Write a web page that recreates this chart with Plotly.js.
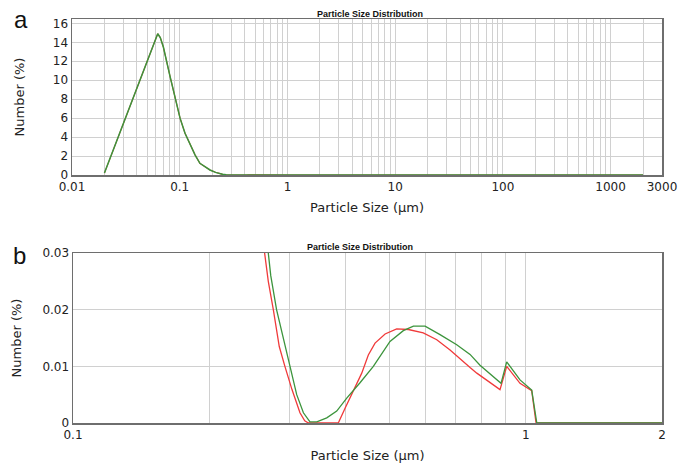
<!DOCTYPE html>
<html>
<head>
<meta charset="utf-8">
<script src="https://cdn.plot.ly/plotly-3.0.1.min.js"></script>
<style>html,body{margin:0;padding:0;background:#fff;}#chart{width:681px;height:463px;}</style>
</head>
<body>
<div id="chart"></div>
<script>
// ---- data (particle size in µm, number in %) ----
var peakSize = [0.0200, 0.0230, 0.0265, 0.0305, 0.0350, 0.0400, 0.0460, 0.0530, 0.0580, 0.0625, 0.0660, 0.0705, 0.0813, 0.0900, 0.1007, 0.1120, 0.1247, 0.1390, 0.1540, 0.1720, 0.1910, 0.2150, 0.2370, 0.2500];
var peakNum  = [0.2, 2.0, 3.8, 5.6, 7.4, 9.1, 10.9, 12.7, 13.9, 14.9, 14.5, 13.5, 10.4, 8.2, 6.0, 4.4, 3.2, 2.1, 1.23, 0.82, 0.53, 0.28, 0.12, 0.07];

var tailSizeRed = [0.265, 0.270, 0.277, 0.2855, 0.2938, 0.3046, 0.3172, 0.3250, 0.331, 0.3855, 0.399, 0.4163, 0.4343, 0.4491, 0.4647, 0.4891, 0.5188, 0.5505, 0.5939, 0.6361, 0.6805, 0.7534, 0.7798, 0.8774, 0.9078, 0.9714, 1.031, 1.054, 2000];
var tailNumRed  = [0.030, 0.025, 0.020, 0.0135, 0.0100, 0.0059, 0.0018, 0.0004, 0.0000, 0.0000, 0.0026, 0.0056, 0.0088, 0.0120, 0.0141, 0.0157, 0.0166, 0.0165, 0.0159, 0.0147, 0.0129, 0.0098, 0.0088, 0.0059, 0.0100, 0.0070, 0.0057, 0.0000, 0.0000];

var tailSizeGreen = [0.270, 0.2734, 0.2816, 0.3009, 0.312, 0.3228, 0.3338, 0.3455, 0.3635, 0.3824, 0.4024, 0.4305, 0.4607, 0.5014, 0.5366, 0.5648, 0.5994, 0.6467, 0.704, 0.7534, 0.7925, 0.882, 0.9078, 0.9714, 1.031, 1.058, 2000];
var tailNumGreen  = [0.030, 0.026, 0.020, 0.0100, 0.0050, 0.0018, 0.0002, 0.0002, 0.0009, 0.0021, 0.0044, 0.0071, 0.0100, 0.0144, 0.0163, 0.0171, 0.0171, 0.0156, 0.0138, 0.0121, 0.0102, 0.0070, 0.0108, 0.0076, 0.0058, 0.0000, 0.0000];

var gridValsA = [0.01,0.02,0.03,0.04,0.05,0.06,0.07,0.08,0.09,0.1,0.2,0.3,0.4,0.5,0.6,0.7,0.8,0.9,1,2,3,4,5,6,7,8,9,10,20,30,40,50,60,70,80,90,100,200,300,400,500,600,700,800,900,1000,2000,3000];
var labelValsA = [0.01, 0.1, 1, 10, 100, 1000, 3000];
var labelTextA = ['0.01', '0.1', '1', '10', '100', '1000', '3000'];
var gridValsB = [0.1,0.2,0.3,0.4,0.5,0.6,0.7,0.8,0.9,1,2];
var labelValsB = [0.1, 1, 2];
var labelTextB = ['0.1', '1', '2'];

var chartTitle = 'Particle Size Distribution';
var xTitle = 'Particle Size (\u00b5m)';
var yTitle = 'Number (%)';

// ---- build ----
var redX = peakSize.concat(tailSizeRed), redY = peakNum.concat(tailNumRed);
var greenX = peakSize.concat(tailSizeGreen), greenY = peakNum.concat(tailNumGreen);
function tickText(vals, lv, lt){ return vals.map(function(v){ var i = lv.indexOf(v); return i >= 0 ? lt[i] : ''; }); }

var RED = '#f03a3a', GREEN = '#3c943c';
var traces = [
  {x: redX, y: redY, xaxis: 'x', yaxis: 'y', mode: 'lines', line: {color: RED, width: 1.1}, hoverinfo: 'skip'},
  {x: greenX, y: greenY, xaxis: 'x', yaxis: 'y', mode: 'lines', line: {color: GREEN, width: 1.5}, hoverinfo: 'skip'},
  {x: redX, y: redY, xaxis: 'x2', yaxis: 'y2', mode: 'lines', line: {color: RED, width: 1.3}, hoverinfo: 'skip'},
  {x: greenX, y: greenY, xaxis: 'x2', yaxis: 'y2', mode: 'lines', line: {color: GREEN, width: 1.3}, hoverinfo: 'skip'}
];

var tickFont = {family: 'DejaVu Sans, Verdana, sans-serif', size: 12, color: '#222'};
var titleFont = {family: 'DejaVu Sans, Verdana, sans-serif', size: 13, color: '#222'};
var common = {showgrid: true, gridcolor: '#d0d0d0', gridwidth: 1, showline: true, linecolor: '#6e6e6e', linewidth: 1.5, mirror: true, ticks: '', zeroline: false, tickfont: tickFont, fixedrange: true};
function ax(extra){ var o = {}; for (var k in common) o[k] = common[k]; for (var k2 in extra) o[k2] = extra[k2]; return o; }
var W = 681, H = 463;

var layout = {
  width: W, height: H,
  margin: {l: 0, r: 0, t: 0, b: 0},
  paper_bgcolor: '#fff', plot_bgcolor: '#fff',
  showlegend: false,
  title: {text: '<b>' + chartTitle + '</b>', font: {family: 'Liberation Sans, Arial, sans-serif', size: 9, color: '#111'}, x: 370/W, xanchor: 'center', y: 1 - 14/H, yanchor: 'middle', xref: 'paper', yref: 'container'},
  xaxis: ax({type: 'log', range: [-2, Math.log10(3000)], domain: [72/W, 662/W], anchor: 'y', tickmode: 'array', tickvals: gridValsA, ticktext: tickText(gridValsA, labelValsA, labelTextA), title: {text: xTitle, font: titleFont, standoff: 10}}),
  yaxis: ax({range: [0, 16.46], domain: [1 - 175/H, 1 - 19/H], anchor: 'x', tick0: 0, dtick: 2, title: {text: yTitle, font: titleFont, standoff: 25}}),
  xaxis2: ax({type: 'log', range: [-1, Math.log10(2)], domain: [73/W, 662/W], anchor: 'y2', tickmode: 'array', tickvals: gridValsB, ticktext: tickText(gridValsB, labelValsB, labelTextB), title: {text: xTitle, font: titleFont, standoff: 10}}),
  yaxis2: ax({range: [0, 0.03], domain: [1 - 423/H, 1 - 253/H], anchor: 'x2', tick0: 0, dtick: 0.01, title: {text: yTitle, font: titleFont, standoff: 18}}),
  annotations: [
    {text: '<b>' + chartTitle + '</b>', xref: 'paper', yref: 'paper', x: 360/W, y: 1 - 247/H, xanchor: 'center', yanchor: 'middle', showarrow: false, font: {family: 'Liberation Sans, Arial, sans-serif', size: 9, color: '#111'}},
    {text: 'a', xref: 'paper', yref: 'paper', x: 21/W, y: 1 - 19/H, xanchor: 'center', yanchor: 'middle', showarrow: false, font: {family: 'Liberation Sans, Arial, sans-serif', size: 24, color: '#111'}},
    {text: 'b', xref: 'paper', yref: 'paper', x: 19/W, y: 1 - 255/H, xanchor: 'center', yanchor: 'middle', showarrow: false, font: {family: 'Liberation Sans, Arial, sans-serif', size: 24, color: '#111'}}
  ]
};

Plotly.newPlot('chart', traces, layout, {staticPlot: true, displayModeBar: false});
</script>
</body>
</html>
